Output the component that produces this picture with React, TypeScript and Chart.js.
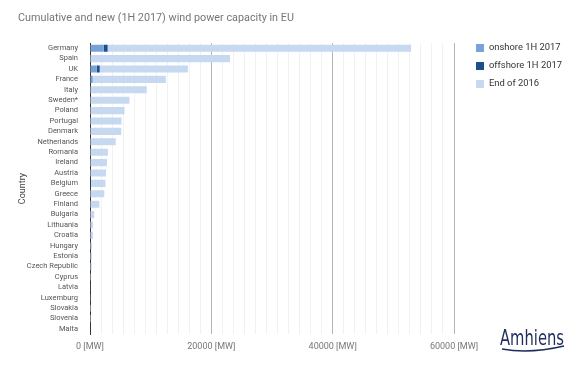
import React, { useEffect, useRef } from "react";
import { Chart, registerables } from "chart.js";

Chart.register(...registerables);

const countries = [
  "Germany", "Spain", "UK", "France", "Italy", "Sweden*", "Poland", "Portugal",
  "Denmark", "Netherlands", "Romania", "Ireland", "Austria", "Belgium", "Greece",
  "Finland", "Bulgaria", "Lithuania", "Croatia", "Hungary", "Estonia",
  "Czech Republic", "Cyprus", "Latvia", "Luxemburg", "Slovakia", "Slovenia", "Malta",
];
const onshore1H2017 = [
  2281, 0, 1100, 450, 100, 0, 0, 0,
  0, 0, 0, 0, 0, 0, 0,
  0, 0, 0, 0, 0, 0,
  0, 0, 0, 0, 0, 0, 0,
];
const offshore1H2017 = [
  626, 0, 500, 0, 0, 0, 0, 0,
  0, 0, 0, 0, 0, 165, 0,
  0, 0, 0, 0, 0, 0,
  0, 0, 0, 0, 0, 0, 0,
];
const end2016 = [
  50019, 23074, 14543, 12065, 9257, 6500, 5700, 5200,
  5150, 4250, 2950, 2800, 2650, 2386, 2350,
  1550, 691, 509, 483, 329, 310,
  282, 158, 69, 120, 3, 5, 0,
];
const seriesNames = ["onshore 1H 2017", "offshore 1H 2017", "End of 2016"];
const seriesColors = ["#76a2d6", "#1d4f8c", "#c7d8f1"];
const xMax = 60000;
const majorStep = 20000;
const minorPerMajor = 11;
const titleText = "Cumulative and new (1H 2017) wind power capacity in EU";
const yAxisTitle = "Country";
const unit = "[MW]";
const logoText = "Amhiens";

export default function App() {
  const ref = useRef<HTMLCanvasElement | null>(null);

  useEffect(() => {
    document.body.style.margin = "0";
    const canvas = ref.current!;
    const isMajor = (v: number) => Math.abs(v / majorStep - Math.round(v / majorStep)) < 1e-6;

    const decor = {
      id: "decor",
      beforeDraw(chart: any) {
        const c = chart.ctx;
        c.save();
        c.fillStyle = "#ffffff";
        c.fillRect(0, 0, chart.width, chart.height);
        c.restore();
      },
      afterDraw(chart: any) {
        const c = chart.ctx;
        const area = chart.chartArea;
        c.save();
        // title
        c.fillStyle = "#757575";
        c.font = "10.8px Roboto";
        c.textBaseline = "middle";
        c.textAlign = "left";
        c.fillText(titleText, 18, 18);
        // y axis title
        c.save();
        c.translate(23, (area.top + area.bottom) / 2);
        c.rotate(-Math.PI / 2);
        c.textAlign = "center";
        c.fillStyle = "#444";
        c.font = "9px Roboto";
        c.fillText(yAxisTitle, 0, 0);
        c.restore();
        // legend
        c.font = "9.4px Roboto";
        c.textAlign = "left";
        seriesNames.forEach((n, i) => {
          const y = 48 + i * 18;
          c.fillStyle = seriesColors[i];
          c.fillRect(476, y - 4, 8, 8);
          c.fillStyle = "#333";
          c.fillText(n, 489, y);
        });
        // logo
        c.fillStyle = "#1f2c5c";
        c.font = "21px 'DejaVu Sans'";
        c.textBaseline = "alphabetic";
        const w = c.measureText(logoText).width;
        c.save();
        c.translate(500, 345);
        c.scale(64 / w, 1);
        c.fillText(logoText, 0, 0);
        c.restore();
        c.strokeStyle = "#1f2c5c";
        c.lineWidth = 1.5;
        c.beginPath();
        c.moveTo(502, 349);
        c.quadraticCurveTo(530, 354, 564, 346);
        c.stroke();
        c.restore();
      },
    };

    const chart = new Chart(canvas, {
      type: "bar",
      data: {
        labels: countries,
        datasets: [onshore1H2017, offshore1H2017, end2016].map((d, i) => ({
          label: seriesNames[i],
          data: d,
          backgroundColor: seriesColors[i],
          borderWidth: 0,
          barPercentage: 0.68,
          categoryPercentage: 1,
        })),
      },
      options: {
        indexAxis: "y",
        responsive: false,
        animation: false,
        layout: { padding: { left: 0, right: 126, top: 43, bottom: 8 } },
        plugins: { legend: { display: false }, tooltip: { enabled: false }, title: { display: false } },
        scales: {
          x: {
            stacked: true,
            min: 0,
            max: xMax,
            afterBuildTicks: (scale: any) => {
              const t: any[] = [];
              const step = majorStep / minorPerMajor;
              const n = Math.round(xMax / step);
              for (let i = 0; i <= n; i++) t.push({ value: i * step });
              scale.ticks = t;
            },
            border: { display: false },
            grid: {
              drawTicks: false,
              color: (ctx: any) => {
                const v = ctx.tick ? ctx.tick.value : 0;
                if (v === 0) return "rgba(0,0,0,0)";
                return isMajor(v) ? "#b5b5b5" : "#f1f1f1";
              },
              lineWidth: 1,
            },
            ticks: {
              autoSkip: false,
              maxRotation: 0,
              padding: 7,
              color: "#777",
              font: { family: "Roboto", size: 9 },
              callback: (v: any) => (isMajor(Number(v)) ? `${Math.round(Number(v))} ${unit}` : ""),
            },
          },
          y: {
            stacked: true,
            afterFit: (scale: any) => {
              scale.width = 90;
            },
            border: { display: true, color: "#333", width: 1 },
            grid: { display: false },
            ticks: {
              autoSkip: false,
              padding: 4,
              color: "#555",
              font: { family: "Roboto", size: 7.5 },
            },
          },
        },
      },
      plugins: [decor],
    } as any);
    return () => chart.destroy();
  }, []);

  return (
    <div style={{ position: "fixed", left: 0, top: 0, width: 580, height: 367 }}>
      <canvas ref={ref} width={580} height={367} />
    </div>
  );
}
